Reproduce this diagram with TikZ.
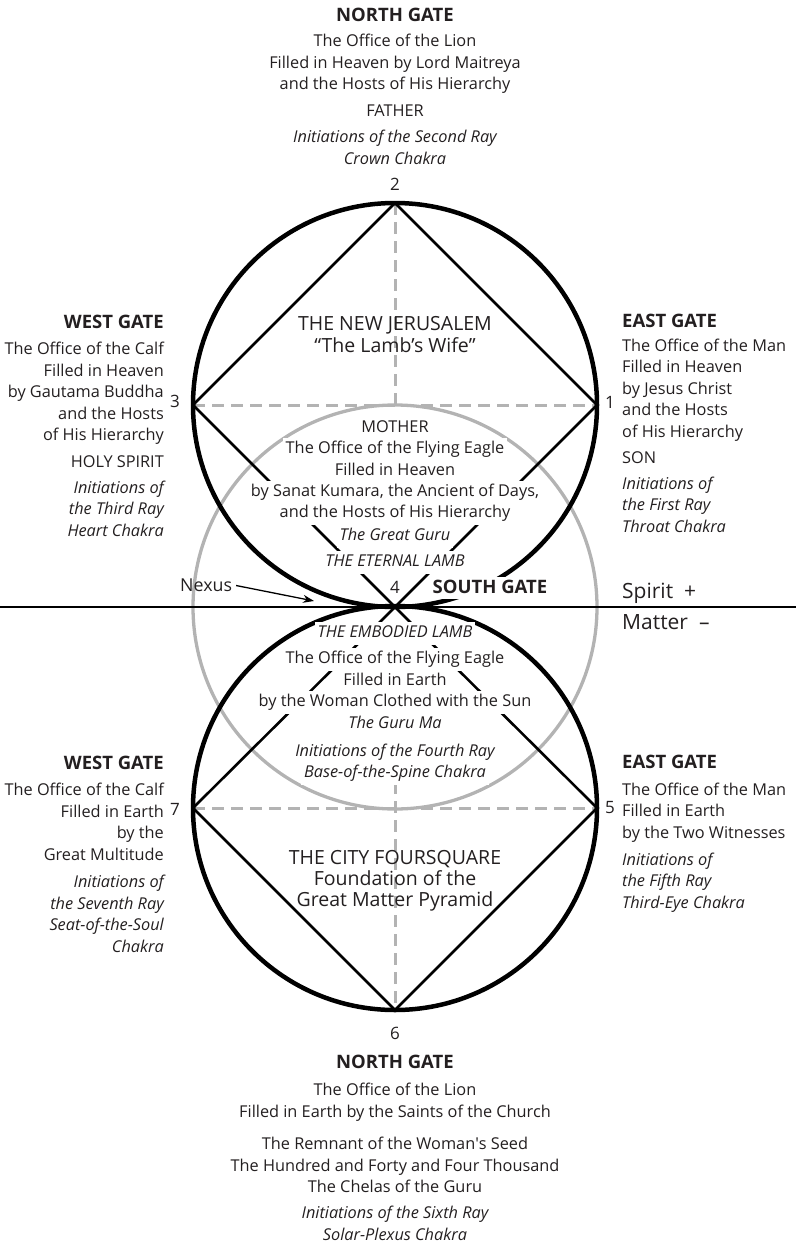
\documentclass[tikz,border=0pt]{standalone}
\usepackage{fontspec}
\setmainfont{Open Sans}
\usepackage{tikz}
\usetikzlibrary{arrows.meta, positioning}
\definecolor{inkdark}{HTML}{231F20}
\definecolor{ringgrey}{HTML}{B3B3B3}
\newcommand\gatefont{\fontsize{18.5}{21.5}\selectfont\bfseries}
\tikzset{
  txt/.style={font=\fontsize{16.3}{21.5}\selectfont, text=inkdark, inner sep=0pt},
  num/.style={font=\fontsize{17}{20}\selectfont, text=inkdark, inner sep=0pt, anchor=base},
  cutline/.style={txt, fill=white, anchor=base, inner xsep=3pt, inner ysep=3.5pt, text height=12pt, text depth=4pt},
  title/.style={font=\fontsize{19.5}{21.5}\selectfont, text=inkdark, inner sep=0pt, anchor=base},
  ring/.style={draw=black, line width=4.5pt},
  halo/.style={draw=ringgrey, line width=3.3pt},
  rhomb/.style={draw=black, line width=2.6pt, line join=miter},
  axisline/.style={draw=ringgrey, line width=3pt, dash pattern=on 12pt off 7pt},
}

\begin{document}
\begin{tikzpicture}[x=1pt, y=-1pt]
  \useasboundingbox (0,0) rectangle (796,1244);
  % the two cities and their gates
  \coordinate (up) at (395,405);
  \coordinate (lo) at (395,808);
  \coordinate (p1) at (597,405);
  \coordinate (p2) at (395,203);
  \coordinate (p3) at (193,405);
  \coordinate (p4) at (395,607);
  \coordinate (p5) at (597,808);
  \coordinate (p6) at (395,1010);
  \coordinate (p7) at (193,808);
  \coordinate (axtop) at (395,782);
  \coordinate (divw) at (0,607);
  \coordinate (dive) at (796,607);
  \coordinate (nexustip) at (314,601);

  \draw[halo] (p4) circle[radius=202pt];
  \draw[axisline] (p3) -- (p1) (p2) -- (up);
  \draw[axisline] (p7) -- (p5) (axtop) -- (p6);
  \draw[ring] (up) circle[radius=202pt] (lo) circle[radius=202pt];
  \draw[rhomb] (p2) -- (p1) -- (p4) -- (p3) -- cycle;
  \draw[rhomb] (p4) -- (p5) -- (p6) -- (p7) -- cycle;
  \draw[line width=2pt] (divw) -- (dive);

  % inner texts
  \node[title] (jerusalem) at (395,330) {THE NEW JERUSALEM};
  \node[title] (wife) at (395,352) {“The Lamb’s Wife”};
  \node[title] (foursquare) at (395,864) {THE CITY FOURSQUARE};
  \node[title] (foundation) at (395,885) {Foundation of the};
  \node[title] (pyramid) at (395,906) {Great Matter Pyramid};

  \foreach \t/\y [count=\i] in {MOTHER/432, The Office of the Flying Eagle/453,
      Filled in Heaven/475, {by Sanat Kumara, the Ancient of Days,}/496,
      and the Hosts of His Hierarchy/517, {\itshape The Great Guru}/540,
      {\itshape THE ETERNAL LAMB}/566}
    \node[cutline] (hv\i) at (395,\y) {\t};
  \foreach \t/\y [count=\i] in {{\itshape THE EMBODIED LAMB}/637,
      The Office of the Flying Eagle/663, Filled in Earth/685,
      by the Woman Clothed with the Sun/706, {\itshape The Guru Ma}/728,
      {\itshape Initiations of the Fourth Ray}/756, {\itshape Base-of-the-Spine Chakra}/777}
    \node[cutline] (ea\i) at (395,\y) {\t};
  \node[cutline, font=\gatefont, text height=13pt, inner ysep=3pt, text depth=3pt] (south) at (490,593) {SOUTH GATE};

  % gate numbers
  \node[num] (n1) at (610,408) {1};
  \node[num] (n2) at (395,190) {2};
  \node[num] (n3) at (175,407) {3};
  \node[num] (n4) at (395,593) {4};
  \node[num] (n5) at (610,813) {5};
  \node[num] (n6) at (395,1039) {6};
  \node[num] (n7) at (175,815) {7};

  \node[num, font=\fontsize{17.8}{20}\selectfont, anchor=base west] (nexus) at (180,591) {Nexus};
  \draw[-{Stealth[length=11pt, width=8pt]}, line width=1.3pt, shorten <=4pt] (nexus.east) -- (nexustip);
  \node[num, font=\fontsize{21}{24}\selectfont, anchor=base west] (spirit) at (622,598) {Spirit\hspace{11pt}+};
  \node[num, font=\fontsize{21}{24}\selectfont, anchor=base west] (matter) at (622,629) {Matter\hspace{11pt}--};

  % outer gates (anchored at the last line)
  \node[txt, align=center, anchor=base] (northup) at (395,164)
    {{\gatefont NORTH GATE}\\[3.5pt] The Office of the Lion\\ Filled in Heaven by Lord Maitreya\\
     and the Hosts of His Hierarchy\\[5.5pt] FATHER\\[4.5pt] {\itshape Initiations of the Second Ray}\\
     {\itshape Crown Chakra}};
  \node[txt, align=right, anchor=base east] (westup) at (164,536)
    {{\gatefont WEST GATE}\\[4.5pt] The Office of the Calf\\ Filled in Heaven\\ by Gautama Buddha\\
     and the Hosts\\ of His Hierarchy\\[5pt] HOLY SPIRIT\\[4.5pt] {\itshape Initiations of}\\
     {\itshape the Third Ray}\\ {\itshape Heart Chakra}};
  \node[txt, align=left, anchor=base west] (eastup) at (622,532)
    {{\gatefont EAST GATE}\\[2pt] The Office of the Man\\ Filled in Heaven\\ by Jesus Christ\\
     and the Hosts\\ of His Hierarchy\\[5pt] SON\\[4pt] {\itshape Initiations of}\\
     {\itshape the First Ray}\\ {\itshape Throat Chakra}};
  \node[txt, align=right, anchor=base east] (westlo) at (164,952)
    {{\gatefont WEST GATE}\\[5pt] The Office of the Calf\\ Filled in Earth\\ by the\\
     Great Multitude\\[6pt] {\itshape Initiations of}\\ {\itshape the Seventh Ray}\\
     {\itshape Seat-of-the-Soul}\\ {\itshape Chakra}};
  \node[txt, align=left, anchor=base west] (eastlo) at (622,908)
    {{\gatefont EAST GATE}\\[5pt] The Office of the Man\\ Filled in Earth\\
     by the Two Witnesses\\[5.5pt] {\itshape Initiations of}\\ {\itshape the Fifth Ray}\\
     {\itshape Third-Eye Chakra}};
  \node[txt, align=center, anchor=base] (northlo) at (395,1240)
    {{\gatefont NORTH GATE}\\[6pt] The Office of the Lion\\ Filled in Earth by the Saints of the Church\\[11pt]
     The Remnant of the Woman\textquotesingle s Seed\\ The Hundred and Forty and Four Thousand\\
     The Chelas of the Guru\\[4.5pt] {\itshape Initiations of the Sixth Ray}\\ {\itshape Solar-Plexus Chakra}};
\end{tikzpicture}
\end{document}
